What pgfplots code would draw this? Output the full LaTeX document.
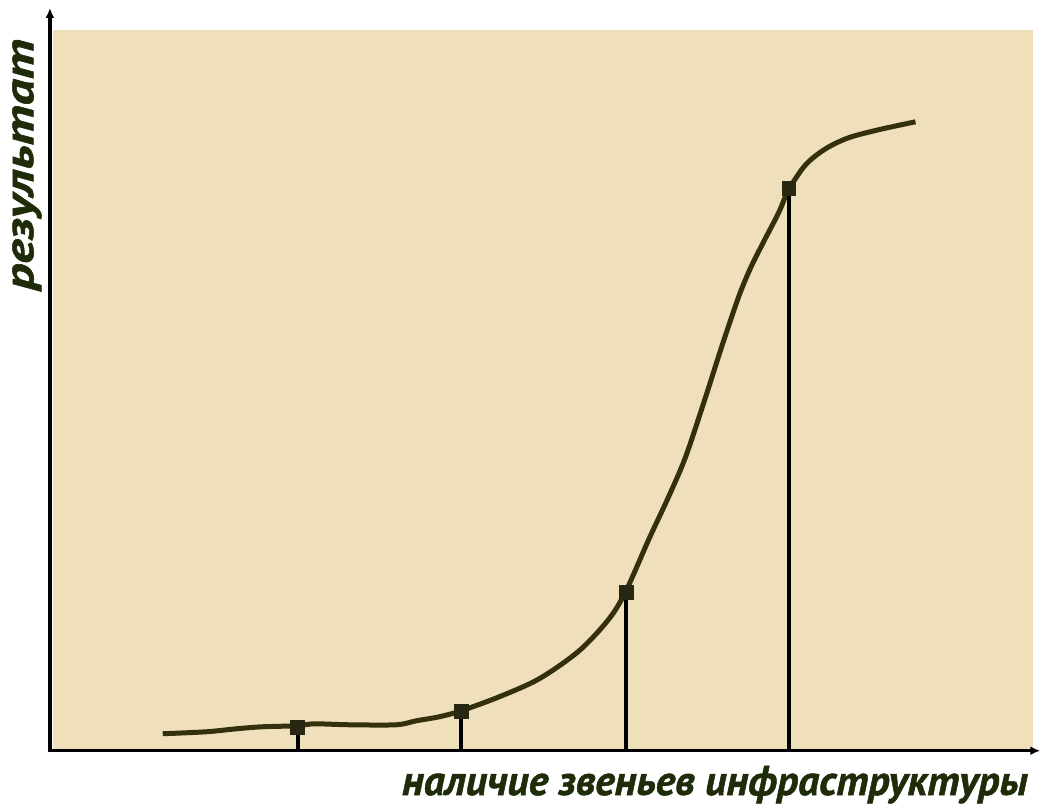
\documentclass[border=0pt]{standalone}
\usepackage{pgfplots}
\pgfplotsset{compat=1.18}
\usepackage{fontspec}
\usetikzlibrary{arrows.meta}
\newfontfamily\lab{PT Sans}[BoldItalicFeatures={FakeBold=1.2}]
\definecolor{bg}{RGB}{239,223,186}
\definecolor{curve}{RGB}{52,48,14}
\definecolor{mk}{RGB}{40,40,18}
\definecolor{txt}{RGB}{30,44,10}
\begin{document}
\begin{tikzpicture}
\begin{axis}[
  width=1042bp, height=810bp, scale only axis,
  xmin=0, xmax=1042, ymin=-58, ymax=752,
  hide axis, clip=false]
\path (axis cs:0,-58) rectangle (axis cs:1042,752);
\fill[bg] (axis cs:53,2) rectangle (axis cs:1035,722);
% curve
\addplot[curve, line width=5bp, smooth, tension=0.5, mark=none] coordinates {
(163,17) (207,19) (237,22) (263,24) (298,25) (313,27) (350,26) (397,26)
(417,30) (440,34) (462,40) (500,54) (540,72) (580,100) (610,132) (627,160)
(650,212) (670,255) (687,295) (707,355) (723,405) (740,455) (752,484)
(765,510) (780,539) (790,562) (807,587) (827,603) (850,614) (880,622) (917,630)
};
% drop lines
\addplot[black, line width=4bp, ycomb, mark=none] coordinates {
(298,24) (462,40) (627,159) (790,563)
};
% markers
\addplot[only marks, mark=square*, mark size=7bp, mark options={fill=mk, draw=mk}] coordinates {
(298,24) (462,40) (627,159) (790,563)
};
% axes
\draw[black, line width=3.5bp, -{Latex[length=10bp,width=9bp]}] (axis cs:48,0) -- (axis cs:1042,0);
\draw[black, line width=3.5bp, -{Latex[length=10bp,width=9bp]}] (axis cs:50,-1.5) -- (axis cs:50,744);
% labels
\node[txt, rotate=90, font=\lab\bfseries\itshape\fontsize{41}{44}\selectfont] at (axis cs:27,587) {\scalebox{1.28}[1]{результат}};
\node[txt, font=\lab\bfseries\itshape\fontsize{42}{46}\selectfont] at (axis cs:716,-34) {наличие звеньев инфраструктуры};
\end{axis}
\end{tikzpicture}
\end{document}
